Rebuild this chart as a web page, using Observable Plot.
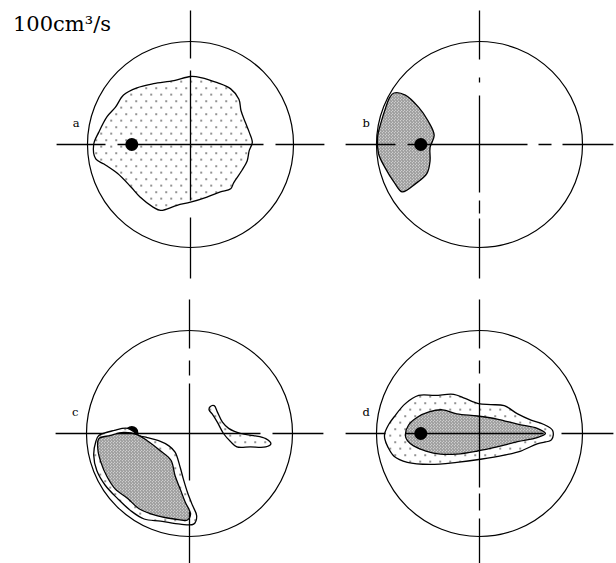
<!DOCTYPE html>
<html><head><meta charset="utf-8">
<script src="https://cdn.jsdelivr.net/npm/d3@7"></script>
<script src="https://cdn.jsdelivr.net/npm/@observablehq/plot@0.6"></script>
<style>
html,body{margin:0;padding:0;background:#fff;overflow:hidden;width:616px;height:563px}
#root{position:relative;width:616px;height:563px;overflow:hidden}
#title{position:absolute;left:13px;top:14px;font:21px/21px "DejaVu Serif",serif;color:#000;white-space:nowrap}
.panel{position:absolute}
</style></head><body>
<div id="root">
<div id="title">100cm³/s</div>
<svg width="0" height="0" style="position:absolute;left:0;top:0"><defs>
<pattern id="dotsLight" patternUnits="userSpaceOnUse" width="10" height="13">
<rect width="10" height="13" fill="#fff"/>
<rect x="2" y="2" width="1.3" height="1.3" fill="#000"/><rect x="7" y="8.5" width="1.3" height="1.3" fill="#000"/>
</pattern>
<pattern id="dotsDense" patternUnits="userSpaceOnUse" width="3" height="3">
<rect width="3" height="3" fill="#fff"/>
<circle cx="0.75" cy="0.75" r="0.7" fill="#000"/><circle cx="2.25" cy="2.25" r="0.7" fill="#000"/>
</pattern>
</defs></svg>
</div>
<script>
// ---------- data (units: circle radius = 100 cm³/s) ----------
const panelNames = ["a", "b", "c", "d"];
const circleRadius = 100;
const crossExtent = 130;

const polyA = [[-94,0],[-89,12],[-81,27],[-73,36],[-65,48],[-52,55],[-36,59],[-16,62],[0,66],[10,65],[26,60],[39,54],[47,44],[49,33],[53,22],[57,12],[60,2],[57,-6],[55,-16],[50,-25],[42,-37],[39,-43],[29,-46],[16,-51],[0,-56],[-13,-59],[-29,-64],[-36,-61],[-49,-51],[-58,-41],[-71,-28],[-84,-19],[-92,-14]];
const polyBDense = [[-83,50],[-72,48],[-59,36],[-50,23],[-44,9],[-48,-3],[-48,-16],[-51,-28],[-62,-38],[-75,-46],[-82,-38],[-92,-22],[-98,-9],[-99,7],[-96,20],[-91,36],[-87,46]];
const polyCOuter = [[-88,-2],[-73,3],[-60,5],[-49,-2],[-41,-4],[-30,-7],[-20,-12],[-14,-18],[-9,-33],[-6,-44],[-2,-57],[3,-70],[7,-80],[4,-88],[-9,-88],[-28,-85],[-44,-83],[-57,-75],[-70,-63],[-82,-50],[-90,-36],[-93,-21],[-91,-8]];
const polyCDense = [[-88,-5],[-77,-2],[-64,1],[-51,-1],[-41,-7],[-28,-17],[-18,-26],[-14,-41],[-9,-54],[-4,-67],[1,-78],[-2,-84],[-15,-83],[-31,-80],[-49,-73],[-60,-63],[-72,-54],[-80,-42],[-86,-28],[-89,-15]];
const polyCSmall = [[20,26],[24,27],[27,21],[32,11],[38,5],[50,0],[62,-2],[74,-5],[79,-10],[74,-13],[59,-13],[46,-13],[40,-8],[33,0],[27,11],[22,19],[19,23]];
const polyDOuter = [[-92,0],[-88,9],[-83,16],[-72,29],[-59,37],[-43,37],[-25,38],[-14,34],[-1,29],[11,28],[24,27],[37,19],[50,13],[62,9],[71,3],[70,-6],[56,-10],[40,-17],[24,-21],[1,-25],[-22,-28],[-48,-30],[-70,-28],[-83,-22],[-89,-13],[-92,-5]];
const polyDDense = [[-72,-2],[-69,8],[-60,16],[-49,21],[-36,23],[-22,19],[-2,17],[17,14],[37,9],[56,5],[64,0],[56,-4],[37,-8],[17,-13],[-2,-17],[-22,-20],[-38,-20],[-52,-17],[-64,-12],[-70,-7]];

const meanX = [-57, -57, -56, -57];
const meanY = [0, 0, 1, 0];
const labelX = [-111, -110, -111, -110];
const labelY = [17, 17, 17, 17];

// ---------- layout / styles ----------
const S = 274, half = 133, k = S / (2 * half);
const layout = {a: [53, 7], b: [342, 7], c: [52, 296], d: [342, 296]};
const LIGHT = "url(#dotsLight)", DENSE = "url(#dotsDense)";
const polygonLayers = {
  a: [[polyA, LIGHT]],
  b: [[polyBDense, DENSE]],
  c: [[polyCOuter, LIGHT], [polyCDense, DENSE], [polyCSmall, LIGHT]],
  d: [[polyDOuter, LIGHT], [polyDDense, DENSE]]
};
const meanBelow = {c: true};
const arms = [{dir: "right", dx: 1, dy: 0}, {dir: "left", dx: -1, dy: 0}, {dir: "up", dx: 0, dy: 1}, {dir: "down", dx: 0, dy: -1}];
const dashes = {
  a: {right: "73,12,60", left: "73,12,60", up: "74,12,60", down: "56,17,70"},
  b: {right: "48,11,13,11,60", left: "72,12,60", up: "49,13,5,18,60", down: "48,8,13,5,60"},
  c: {right: "71,12,60", left: "73,12,60", up: "50,8,15,12,60", down: "47,31,60"},
  d: {right: "64,18,60", left: "74,20,60", up: "50,10,13,12,60", down: "54,6,17,8,60"}
};

const root = document.getElementById("root");
panelNames.forEach((p, i) => {
  const mean = [{x: meanX[i], y: meanY[i]}];
  const meanMark = Plot.dot(mean, {x: "x", y: "y", r: 6.5, fill: "#000", stroke: "none"});
  const marks = [];
  if (meanBelow[p]) marks.push(meanMark);
  for (const [pts, fill] of polygonLayers[p]) {
    marks.push(Plot.line(pts, {x: d => d[0], y: d => d[1], curve: "catmull-rom-closed", fill, stroke: "#000", strokeWidth: 1.3}));
  }
  marks.push(Plot.dot([{x: 0, y: 0}], {x: "x", y: "y", r: circleRadius * k, fill: "none", stroke: "#000", strokeWidth: 1.2}));
  for (const a of arms) {
    marks.push(Plot.link([a], {x1: () => 0, y1: () => 0, x2: d => d.dx * crossExtent, y2: d => d.dy * crossExtent, stroke: "#000", strokeWidth: 1.3, strokeDasharray: dashes[p][a.dir], strokeLinecap: "butt"}));
  }
  if (!meanBelow[p]) marks.push(meanMark);
  marks.push(Plot.text([{x: labelX[i], y: labelY[i], t: p}], {x: "x", y: "y", text: "t", fontFamily: "DejaVu Serif", fontSize: 11.5, textAnchor: "middle", lineAnchor: "bottom", fill: "#000"}));
  const chart = Plot.plot({
    width: S, height: S, margin: 0,
    x: {domain: [-half, half], axis: null},
    y: {domain: [-half, half], axis: null},
    style: {background: "transparent", overflow: "visible"},
    marks
  });
  chart.classList.add("panel");
  chart.style.left = layout[p][0] + "px";
  chart.style.top = layout[p][1] + "px";
  root.appendChild(chart);
});
</script>
</body></html>
